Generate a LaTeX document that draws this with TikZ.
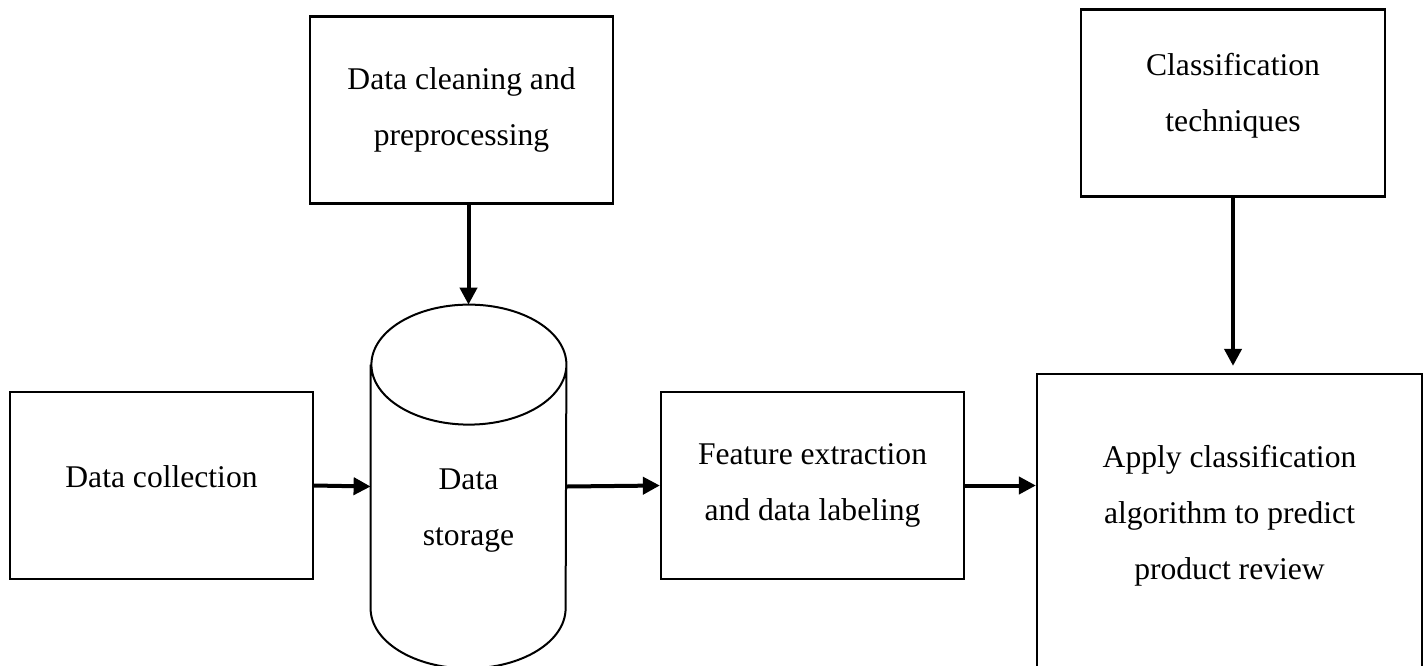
\documentclass[tikz,border=0pt]{standalone}
\usepackage{fontspec}
\setmainfont{Liberation Serif}
\usetikzlibrary{arrows.meta,positioning}

\begin{document}
\begin{tikzpicture}[x=0.5pt,y=-0.5pt, every node/.style={font={\fontsize{15.8pt}{28pt}\selectfont}},
 box/.style={draw,line width=1.15pt,align=center,inner sep=0pt,minimum width=151.5pt,minimum height=93.5pt},
 store/.style={inner sep=0pt,minimum width=97.5pt,minimum height=181.5pt},
 cyl/.style={draw,line width=1pt},
 lbl/.style={align=center,inner sep=0pt},
 arr/.style={-{Triangle[length=8.5pt,width=8.5pt]},line width=2pt}]
\clip (0,0) rectangle (1427,665);
\node[box,text depth=8.5pt] (collect) at (161.5,485.5) {Data collection};
\node[box] (clean) at (461.5,110) {Data cleaning and\\preprocessing};
\node[store] (store) at (468.5,486.5) {};
\draw[cyl] ([yshift=-30pt]store.north west) -- ([yshift=30pt]store.south west)
 arc[start angle=180,end angle=360,x radius=48.75pt,y radius=30pt] -- ([yshift=-30pt]store.north east)
 arc[start angle=0,end angle=360,x radius=48.75pt,y radius=30pt];
\node[lbl] (storetxt) at (468.5,511) {Data\\storage};
\node[box] (feature) at (812.5,485.5) {Feature extraction\\and data labeling};
\node[box,minimum width=152pt,text depth=11pt] (classtech) at (1233,103) {Classification\\techniques};
\node[box,minimum width=192.5pt,minimum height=163pt] (apply) at (1229.5,537) {};
\node[lbl] (applytxt) at (1229.5,516) {Apply classification\\algorithm to predict\\product review};
\draw[arr] (collect.east)--(store.west);\draw[arr] (store.east)--(feature.west);
\draw[arr] (feature.east)--(feature.east -| apply.west);
\draw[arr] (store.north |- clean.south)--(store.north);
\draw[arr,shorten >=3.5pt] (classtech.south)--(classtech.south |- apply.north);
\end{tikzpicture}
\end{document}
